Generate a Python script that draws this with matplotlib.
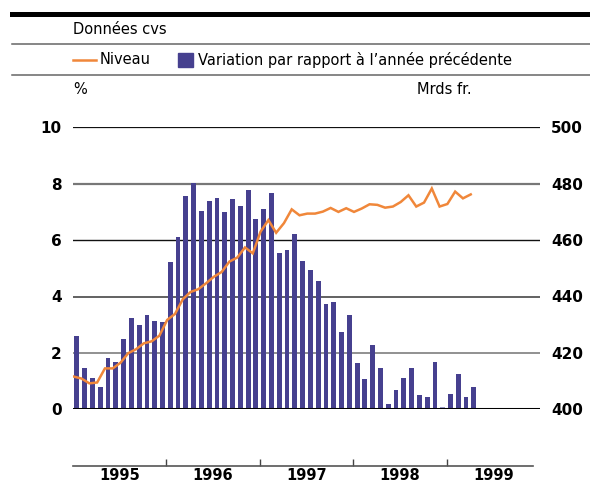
import numpy as np
import matplotlib
matplotlib.use("Agg")
import matplotlib.pyplot as plt
from matplotlib.lines import Line2D

W, H = 590, 486

# Variation par rapport à l'année précédente (%), mensuel janv. 1995 - avr. 1999
variation = [2.60, 1.48, 1.12, 0.80, 1.83, 1.67, 2.51, 3.22, 2.99, 3.36, 3.13, 3.10,
             5.22, 6.12, 7.56, 8.04, 7.04, 7.40, 7.49, 7.00, 7.46, 7.21, 7.78, 6.76,
             7.10, 7.68, 5.54, 5.65, 6.22, 5.26, 4.94, 4.55, 3.74, 3.81, 2.74, 3.35,
             1.64, 1.08, 2.28, 1.48, 0.19, 0.69, 1.12, 1.48, 0.51, 0.45, 1.68, 0.07,
             0.54, 1.25, 0.44, 0.79]

# Niveau (Mrds fr.)
niveau = [411.6, 410.9, 409.2, 409.5, 414.5, 414.5, 416.5, 419.9, 421.3, 423.4, 424.1, 426.1,
          431.7, 433.8, 439.0, 441.6, 442.6, 444.7, 447.0, 448.7, 452.4, 453.8, 457.4, 455.3,
          463.0, 467.1, 462.6, 466.0, 470.9, 468.8, 469.4, 469.4, 470.1, 471.4, 470.0, 471.3,
          470.0, 471.2, 472.7, 472.5, 471.5, 471.9, 473.5, 475.9, 471.9, 473.3, 478.3, 471.9,
          472.8, 477.2, 474.8, 476.2]

years = ["1995", "1996", "1997", "1998", "1999"]
left_ticks = [0, 2, 4, 6, 8, 10]
right_ticks = [400, 420, 440, 460, 480, 500]

BAR = "#46408f"
BAR_LIGHT = "#9a9ac8"
ORANGE = "#f0873a"


def px_axes(fig, x0, y0, x1, y1):
    # pixel box (top-left origin) -> figure fraction
    return fig.add_axes([x0 / W, (H - y1) / H, (x1 - x0) / W, (y1 - y0) / H])


fig = plt.figure(figsize=(W / 100, H / 100), dpi=100)

ax = px_axes(fig, 73, 127.3, 540, 409.3)
ax2 = ax.twinx()

ax.set_xlim(0, 60)
ax.set_ylim(0, 10)
ax2.set_ylim(400, 500)

# grid lines
grid_style = {0: ("#000000", 2.2), 2: ("#888888", 1.3), 4: ("#555555", 1.3),
              6: ("#111111", 1.0), 8: ("#777777", 1.6), 10: ("#111111", 0.9)}
for v, (c, lw) in grid_style.items():
    ax.axhline(v, color=c, lw=lw, zorder=1 if v else 4)

x = np.arange(len(variation)) + 0.5
cols = [BAR_LIGHT if v < 0.1 else BAR for v in variation]
ax.bar(x, variation, width=0.62, color=cols, zorder=2)

ax2.plot(x - 0.4, niveau, color=ORANGE, lw=1.8, zorder=5, solid_joinstyle="miter")

for a in (ax, ax2):
    for s in a.spines.values():
        s.set_visible(False)
    a.set_xticks([])
ax.set_yticks(left_ticks)
ax.set_yticklabels([str(t) for t in left_ticks], fontweight="bold", fontsize=11)
ax2.set_yticks(right_ticks)
ax2.set_yticklabels([str(t) for t in right_ticks], fontweight="bold", fontsize=11)
ax.tick_params(axis="y", length=0, pad=8)
ax2.tick_params(axis="y", length=0, pad=8)
ax.set_zorder(ax2.get_zorder() - 1)
ax2.patch.set_visible(False)

# bottom time axis
axb = px_axes(fig, 73, 455, 533, 465.7)
axb.set_xlim(0, 59.1)
axb.set_ylim(0, 1)
for k, s in axb.spines.items():
    s.set_visible(k == "bottom")
axb.spines["bottom"].set_color("#555555")
axb.spines["bottom"].set_linewidth(1.2)
axb.patch.set_visible(False)
axb.set_yticks([])
axb.set_xticks([12, 24, 36, 48])
axb.set_xticklabels([])
axb.tick_params(axis="x", which="major", direction="in", length=5, width=1, color="#444444")
axb.set_xticks([6 + 12 * i for i in range(len(years))], minor=True)
axb.set_xticklabels(years, minor=True, fontweight="bold", fontsize=10.5)
axb.tick_params(axis="x", which="minor", length=0, pad=1.5)

# header rules and texts
rules = fig.add_axes([0, 0, 1, 1])
rules.set_xlim(0, W)
rules.set_ylim(H, 0)
rules.axis("off")
rules.add_line(Line2D([12, W], [14, 14], color="black", lw=3.6))
rules.add_line(Line2D([12, W], [44.5, 44.5], color="#666666", lw=1.1))
rules.add_line(Line2D([12, W], [75, 75], color="#666666", lw=1.1))
rules.add_line(Line2D([73, 96], [60, 60], color=ORANGE, lw=1.8))
rules.add_patch(plt.Rectangle((178, 53), 14.5, 14, color=BAR))

rules.text(73, 30, "Données cvs", fontsize=10.5, va="center", ha="left")
rules.text(100, 60, "Niveau", fontsize=10.5, va="center", ha="left")
rules.text(198, 60, "Variation par rapport à l’année précédente", fontsize=10.5,
           va="center", ha="left")
rules.text(73, 90, "%", fontsize=10.5, va="center", ha="left")
rules.text(472, 90, "Mrds fr.", fontsize=10.5, va="center", ha="right")

fig.savefig("out.png", dpi=100)
